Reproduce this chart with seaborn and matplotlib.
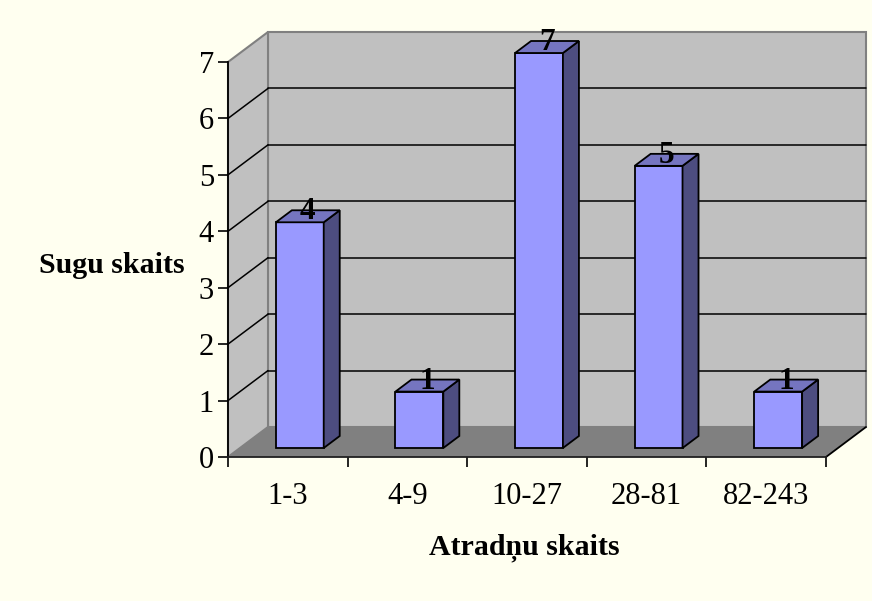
import matplotlib
matplotlib.use("Agg")
import matplotlib.pyplot as plt
import seaborn as sns
import pandas as pd
from matplotlib.patches import Polygon, Rectangle
from matplotlib.transforms import Affine2D, IdentityTransform

# Data
categories = ["1-3", "4-9", "10-27", "28-81", "82-243"]
species_counts = [4, 1, 7, 5, 1]
y_ticks = [0, 1, 2, 3, 4, 5, 6, 7]
x_title = "Atradņu skaits"
y_title = "Sugu skaits"

# Colours
BG = "#FFFFF0"
WALL = "#C0C0C0"
FLOOR = "#808080"
EDGE_GRAY = "#808080"
BAR_FRONT = "#9999FF"
BAR_SIDE = "#4D4D80"
BAR_TOP = "#7575C0"

sns.set_theme(style="white")
plt.rcParams["font.family"] = ["Liberation Serif", "DejaVu Serif"]
plt.rcParams["text.color"] = "black"
plt.rcParams["xtick.color"] = "black"
plt.rcParams["ytick.color"] = "black"
plt.rcParams["axes.labelcolor"] = "black"

W, H, DPI = 872, 601, 100
FS_TICK = 22
FS_TITLE = 21.5
FS_VAL = 22.5

# depth of the 3-D box, in pixels (right, up)
DX, DY = 40, 30
BAR_D0, BAR_D1 = 0.3, 0.7

fig = plt.figure(figsize=(W / DPI, H / DPI), dpi=DPI, facecolor=BG)
ax = fig.add_axes([228 / W, 1 - 457 / H, (826 - 228) / W, (457 - 62) / H])
ax.set_facecolor("none")

df = pd.DataFrame({"range": categories, "count": species_counts})
sns.barplot(data=df, x="range", y="count", ax=ax, width=0.4, color=BAR_FRONT,
            saturation=1, edgecolor="black", linewidth=1.3, zorder=5)
ax.set_xlim(-0.5, len(categories) - 0.5)
ax.set_ylim(y_ticks[0], y_ticks[-1])

to_disp = ax.transData.transform


def shifted(frac):
    return ax.transData + Affine2D().translate(frac * DX, frac * DY)


def disp_pts(points, frac):
    out = []
    for x, y in points:
        px, py = to_disp((x, y))
        out.append((px + frac * DX, py + frac * DY))
    return out


x0, x1 = -0.5, len(categories) - 0.5
y0, y1 = y_ticks[0], y_ticks[-1]
ident = IdentityTransform()

# back wall
ax.add_patch(Rectangle((x0, y0), x1 - x0, y1 - y0, transform=shifted(1.0),
                       facecolor=WALL, edgecolor=EDGE_GRAY, lw=1.5, zorder=0,
                       clip_on=False))
# left wall
left = disp_pts([(x0, y0), (x0, y1)], 0) + disp_pts([(x0, y1), (x0, y0)], 1)
ax.add_patch(Polygon(left, closed=True, transform=ident, facecolor=WALL,
                     edgecolor=EDGE_GRAY, lw=1.5, zorder=0, clip_on=False))
# floor
floor = disp_pts([(x0, y0), (x1, y0)], 0) + disp_pts([(x1, y0), (x0, y0)], 1)
ax.add_patch(Polygon(floor, closed=True, transform=ident, facecolor=FLOOR,
                     edgecolor="none", zorder=1, clip_on=False))
# floor right edge
fr = disp_pts([(x1, y0)], 0) + disp_pts([(x1, y0)], 1)
ax.plot([p[0] for p in fr], [p[1] for p in fr], color="black", lw=1.3,
        transform=ident, zorder=2, clip_on=False)

# gridlines on the back and left walls
for v in y_ticks[1:-1]:
    ax.plot([x0, x1], [v, v], color="black", lw=1.1, transform=shifted(1.0),
            zorder=1, clip_on=False)
    seg = disp_pts([(x0, v)], 0) + disp_pts([(x0, v)], 1)
    ax.plot([p[0] for p in seg], [p[1] for p in seg], color="black", lw=1.1,
            transform=ident, zorder=1, clip_on=False)

# 3-D bars: push the front faces back, then add side and top faces
bars = [p for p in ax.patches if isinstance(p, Rectangle)
        and p.get_zorder() == 5 and p.get_height() > 0]
for patch in bars:
    bx, by = patch.get_x(), patch.get_y()
    bw, bh = patch.get_width(), patch.get_height()
    patch.set_transform(shifted(BAR_D0))
    patch.set_clip_on(False)
    side = disp_pts([(bx + bw, by), (bx + bw, by + bh)], BAR_D0) + \
        disp_pts([(bx + bw, by + bh), (bx + bw, by)], BAR_D1)
    top = disp_pts([(bx, by + bh), (bx + bw, by + bh)], BAR_D0) + \
        disp_pts([(bx + bw, by + bh), (bx, by + bh)], BAR_D1)
    ax.add_patch(Polygon(side, closed=True, transform=ident, facecolor=BAR_SIDE,
                         edgecolor="black", lw=1.3, zorder=5, clip_on=False))
    ax.add_patch(Polygon(top, closed=True, transform=ident, facecolor=BAR_TOP,
                         edgecolor="black", lw=1.3, zorder=5, clip_on=False))

# value labels
for i, v in enumerate(species_counts):
    ax.annotate(str(v), xy=(i, v), xytext=(0.5 * DX, BAR_D0 * DY + 3),
                textcoords="offset pixels", ha="center", va="baseline",
                fontsize=FS_VAL, fontweight="bold", color="black", zorder=7,
                annotation_clip=False)

# axes
for s in ["top", "right"]:
    ax.spines[s].set_visible(False)
ax.spines["left"].set_color("black")
ax.spines["left"].set_linewidth(1.3)
ax.spines["bottom"].set_color("#202020")
ax.spines["bottom"].set_linewidth(1.3)
ax.spines["left"].set_zorder(3)
ax.spines["bottom"].set_zorder(3)

ax.set_yticks(y_ticks)
ax.set_yticklabels([str(t) for t in y_ticks], fontsize=FS_TICK)
ax.tick_params(axis="y", direction="out", length=7, width=1.2, color="black",
               pad=3, left=True, labelcolor="black")
ax.set_xticks(range(len(categories)))
ax.set_xticklabels(categories, fontsize=FS_TICK)
ax.set_xticks([i - 0.5 for i in range(len(categories) + 1)], minor=True)
ax.tick_params(axis="x", which="major", length=0, pad=18, labelcolor="black")
ax.tick_params(axis="x", which="minor", direction="out", length=7, width=1.2,
               color="black", bottom=True)

ax.set_xlabel("")
ax.set_ylabel("")
fig.text(524 / W, 1 - 548 / H, x_title, fontsize=FS_TITLE, fontweight="bold",
         ha="center", va="center", color="black")
fig.text(112 / W, 1 - 265 / H, y_title, fontsize=FS_TITLE, fontweight="bold",
         ha="center", va="center", color="black")

fig.savefig("out.png", dpi=DPI, facecolor=BG)
